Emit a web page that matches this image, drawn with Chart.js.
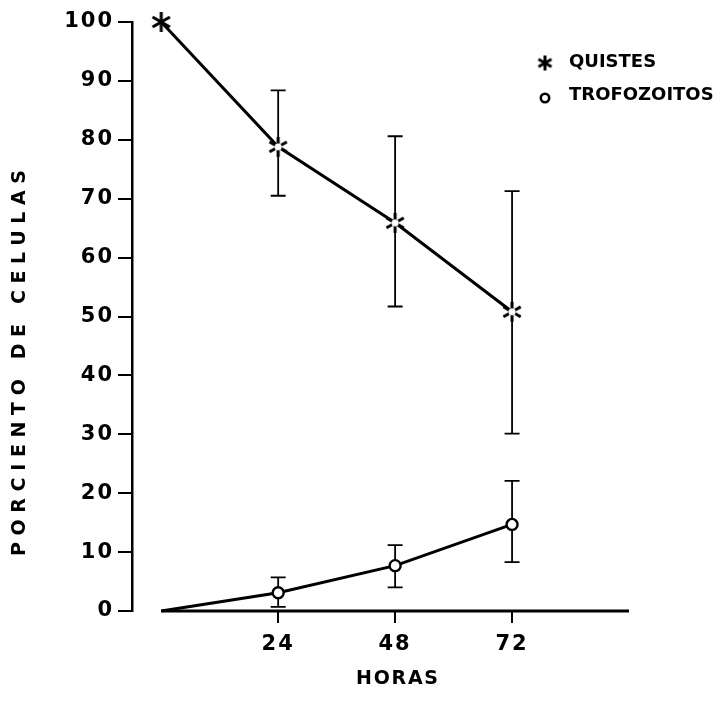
<!DOCTYPE html>
<html><head><meta charset="utf-8">
<script src="https://cdn.jsdelivr.net/npm/chart.js@4"></script>
<style>html,body{margin:0;padding:0;background:#fff}canvas{display:block}</style>
</head><body>
<canvas id="c" width="723" height="715"></canvas>
<script>
// ---- data ----
const hours = [0, 24, 48, 72];
const xTickValues = [24, 48, 72];
const xTickLabels = ['24', '48', '72'];
const quistes = [100, 78.8, 65.9, 50.8];
const quistesHigh = [null, 88.4, 80.6, 71.3];
const quistesLow = [null, 70.5, 51.7, 30.1];
const trofozoitos = [0, 3.1, 7.7, 14.7];
const trofozoitosHigh = [null, 5.7, 11.2, 22.1];
const trofozoitosLow = [null, 0.7, 4.0, 8.3];
const seriesLabels = ['QUISTES', 'TROFOZOITOS'];
const xTitle = 'HORAS';
const yTitle = 'PORCIENTO DE CELULAS';
const xAxisStart = 0, xAxisEnd = 96;

const FONT = '"DejaVu Sans", sans-serif';

function makeAsterisk(size, hollow, lw) {
  const c = document.createElement('canvas');
  c.width = size; c.height = size;
  const g = c.getContext('2d');
  const m = size / 2, r = size / 2 - 1;
  g.strokeStyle = '#000'; g.lineWidth = lw;
  for (let i = 0; i < 3; i++) {
    const a = Math.PI / 2 + i * Math.PI / 3;
    g.beginPath();
    g.moveTo(m + Math.cos(a) * r, m + Math.sin(a) * r);
    g.lineTo(m - Math.cos(a) * r, m - Math.sin(a) * r);
    g.stroke();
  }
  if (hollow) {
    g.fillStyle = '#fff';
    g.beginPath(); g.arc(m, m, hollow, 0, Math.PI * 2); g.fill();
  }
  return c;
}
const starSolid = makeAsterisk(22, 0, 3);
const starHollow = makeAsterisk(22, 3.6, 3);
const starLegend = makeAsterisk(17, 0, 3);

const errorSets = [[quistesLow, quistesHigh], [trofozoitosLow, trofozoitosHigh]];

const spacingPlugin = {
  id: 'spacing',
  beforeDraw(chart) { chart.ctx.letterSpacing = '2px'; }
};

const errorBars = {
  id: 'errorBars',
  beforeDatasetsDraw(chart) {
    const { ctx, scales: { x, y } } = chart;
    ctx.save();
    ctx.strokeStyle = '#000';
    ctx.lineWidth = 3;
    ctx.beginPath();
    ctx.moveTo(x.getPixelForValue(xAxisStart), y.getPixelForValue(0));
    ctx.lineTo(x.getPixelForValue(xAxisEnd), y.getPixelForValue(0));
    ctx.stroke();
    ctx.lineWidth = 1.8;
    errorSets.forEach(([lo, hi]) => {
      hours.forEach((h, i) => {
        if (lo[i] == null) return;
        const px = x.getPixelForValue(h);
        const y1 = y.getPixelForValue(lo[i]), y2 = y.getPixelForValue(hi[i]);
        ctx.beginPath();
        ctx.moveTo(px, y1); ctx.lineTo(px, y2);
        ctx.moveTo(px - 7.5, y1); ctx.lineTo(px + 7.5, y1);
        ctx.moveTo(px - 7.5, y2); ctx.lineTo(px + 7.5, y2);
        ctx.stroke();
      });
    });
    ctx.restore();
  }
};

function spacedText(ctx, text, cx, cy, targetWidth, font) {
  ctx.font = font;
  ctx.letterSpacing = '0px';
  const base = ctx.measureText(text).width;
  const sp = Math.max(0, (targetWidth - base) / (text.length - 1));
  ctx.letterSpacing = sp + 'px';
  ctx.textAlign = 'left';
  ctx.textBaseline = 'middle';
  ctx.fillText(text, cx - targetWidth / 2, cy);
}

const annotations = {
  id: 'annotations',
  afterDraw(chart) {
    const ctx = chart.ctx;
    ctx.save();
    ctx.fillStyle = '#000';
    spacedText(ctx, xTitle, 397, 679, 82, 'bold 19px ' + FONT);
    ctx.save();
    ctx.translate(20, 363);
    ctx.rotate(-Math.PI / 2);
    spacedText(ctx, yTitle, 0, 0, 386, 'bold 19px ' + FONT);
    ctx.restore();
    ctx.letterSpacing = '0px';
    ctx.font = 'bold 18px ' + FONT;
    ctx.textAlign = 'left';
    ctx.textBaseline = 'middle';
    ctx.drawImage(starLegend, 545 - 8.5, 63 - 8.5);
    ctx.fillText(chart.data.datasets[0].label, 569, 62);
    ctx.lineWidth = 2.6;
    ctx.strokeStyle = '#000';
    ctx.beginPath(); ctx.arc(545, 98, 4.2, 0, Math.PI * 2); ctx.stroke();
    ctx.fillText(chart.data.datasets[1].label, 569, 95);
    ctx.restore();
  }
};

new Chart(document.getElementById('c'), {
  type: 'line',
  data: {
    datasets: [
      {
        label: seriesLabels[0],
        data: hours.map((h, i) => ({ x: h, y: quistes[i] })),
        borderColor: '#000', borderWidth: 3,
        pointStyle: hours.map((h, i) => i === 0 ? starSolid : starHollow),
        pointRadius: 11,
        clip: false,
        tension: 0
      },
      {
        label: seriesLabels[1],
        data: hours.map((h, i) => ({ x: h, y: trofozoitos[i] })),
        borderColor: '#000', borderWidth: 3,
        pointStyle: 'circle',
        pointRadius: hours.map((h, i) => i === 0 ? 0 : 5.5),
        pointBackgroundColor: '#fff', pointBorderColor: '#000', pointBorderWidth: 2.4,
        clip: false,
        tension: 0
      }
    ]
  },
  options: {
    responsive: false,
    animation: false,
    devicePixelRatio: 1,
    layout: { padding: { top: 22, right: 94, bottom: 0, left: 0 } },
    plugins: { legend: { display: false }, tooltip: { enabled: false } },
    scales: {
      x: {
        type: 'linear', min: -6, max: 96,
        afterBuildTicks(s) { s.ticks = xTickValues.map(v => ({ value: v })); },
        afterFit(s) { s.height = 104; },
        ticks: {
          color: '#000', padding: 9,
          font: { family: FONT, size: 21, weight: 'bold' },
          callback: (v) => xTickLabels[xTickValues.indexOf(v)]
        },
        grid: { display: true, drawOnChartArea: false, drawTicks: true, tickLength: 12, color: '#000', lineWidth: 2 },
        border: { display: false }
      },
      y: {
        min: 0, max: 100,
        afterFit(s) { s.width = 132; },
        ticks: {
          stepSize: 10, color: '#000', padding: 4,
          font: { family: FONT, size: 21, weight: 'bold' }
        },
        grid: { display: true, drawOnChartArea: false, drawTicks: true, tickLength: 14, color: '#000', lineWidth: 2 },
        border: { display: true, color: '#000', width: 2.5 }
      }
    }
  },
  plugins: [spacingPlugin, errorBars, annotations]
});
</script>
</body></html>
